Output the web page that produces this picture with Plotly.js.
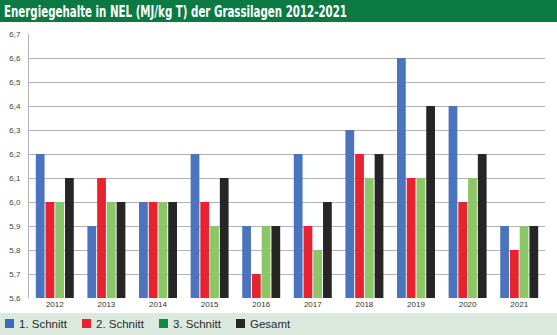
<!DOCTYPE html>
<html><head><meta charset="utf-8">
<script src="https://cdn.plot.ly/plotly-3.0.1.min.js"></script>
<style>html,body{margin:0;padding:0;background:#fff}#c{width:557px;height:335px}</style>
</head><body><div id="c"></div>
<script>
const years = ['2012','2013','2014','2015','2016','2017','2018','2019','2020','2021'];
const seriesNames = ['1. Schnitt','2. Schnitt','3. Schnitt','Gesamt'];
const schnitt1 = [6.2,5.9,6.0,6.2,5.9,6.2,6.3,6.6,6.4,5.9];
const schnitt2 = [6.0,6.1,6.0,6.0,5.7,5.9,6.2,6.1,6.0,5.8];
const schnitt3 = [6.0,6.0,6.0,5.9,5.9,5.8,6.1,6.1,6.1,5.9];
const gesamt   = [6.1,6.0,6.0,6.1,5.9,6.0,6.2,6.4,6.2,5.9];
const baseValue = 5.6;

const barColors = ['#4a74bd','#e8232f','#8bc766','#262626'];
const legendColors = ['#3a6db5','#e8232f','#0f8a45','#262626'];
const values = [schnitt1, schnitt2, schnitt3, gesamt];

const traces = values.map((v,i)=>({
  type:'bar', name:seriesNames[i], x:years,
  y:v.map(d=>d-baseValue), base:baseValue,
  marker:{color:barColors[i]}, showlegend:false, hoverinfo:'skip'
}));

const W=557,H=335,mL=29,mR=12,mT=34,mB=37;
const pw=W-mL-mR, ph=H-mT-mB;
const px=x=>(x-mL)/pw, py=y=>(H-mB-y)/ph;

const shapes=[
  {type:'rect',xref:'paper',yref:'paper',x0:px(0),x1:px(W),y0:py(0),y1:py(22),fillcolor:'#0b7a42',line:{width:0},layer:'below'},
  {type:'rect',xref:'paper',yref:'paper',x0:px(0),x1:px(W),y0:py(313),y1:py(H),fillcolor:'#dbe9df',line:{width:0},layer:'below'}
];
const annotations=[];
const legX=[5,82,159,236];
seriesNames.forEach((n,i)=>{
  shapes.push({type:'rect',xref:'paper',yref:'paper',x0:px(legX[i]),x1:px(legX[i]+9),y0:py(319),y1:py(328),fillcolor:legendColors[i],line:{width:0}});
  annotations.push({xref:'paper',yref:'paper',x:px(legX[i]+12),y:py(323.5),xanchor:'left',yanchor:'middle',text:n,showarrow:false,
    font:{family:'Liberation Sans, Arial, sans-serif',size:11.5,color:'#2a2a2a'}});
});

const layout={
  width:W,height:H,margin:{l:mL,r:mR,t:mT,b:mB},
  paper_bgcolor:'#ffffff',plot_bgcolor:'#ffffff',
  separators:', ',
  title:{text:'<b>Energiegehalte in NEL (MJ/kg T) der Grassilagen 2012-2021</b>',x:4/W,xanchor:'left',y:1-11.5/H,yanchor:'middle',
    font:{family:'DejaVu Sans Condensed, sans-serif',size:15,color:'#ffffff'}},
  barmode:'group',bargap:0.245,bargroupgap:0.1,
  xaxis:{type:'category',showgrid:false,showline:false,ticks:'',
    tickfont:{family:'Liberation Sans, Arial, sans-serif',size:8,color:'#333'},fixedrange:true},
  yaxis:{range:[5.6,6.7],dtick:0.1,tick0:5.6,tickformat:'.1f',showgrid:true,gridcolor:'#b3b3b3',gridwidth:1,
    showline:true,linecolor:'#b3b3b3',linewidth:1,zeroline:false,ticks:'',ticklabelstandoff:6,
    tickfont:{family:'Liberation Sans, Arial, sans-serif',size:8,color:'#444'},fixedrange:true},
  shapes:shapes,annotations:annotations,showlegend:false
};
Plotly.newPlot('c',traces,layout,{staticPlot:true,displayModeBar:false}).then(gd=>{
  const t=gd.querySelector('.gtitle');
  if(t){t.setAttribute('textLength','343');t.setAttribute('lengthAdjust','spacingAndGlyphs');}
});
</script></body></html>
